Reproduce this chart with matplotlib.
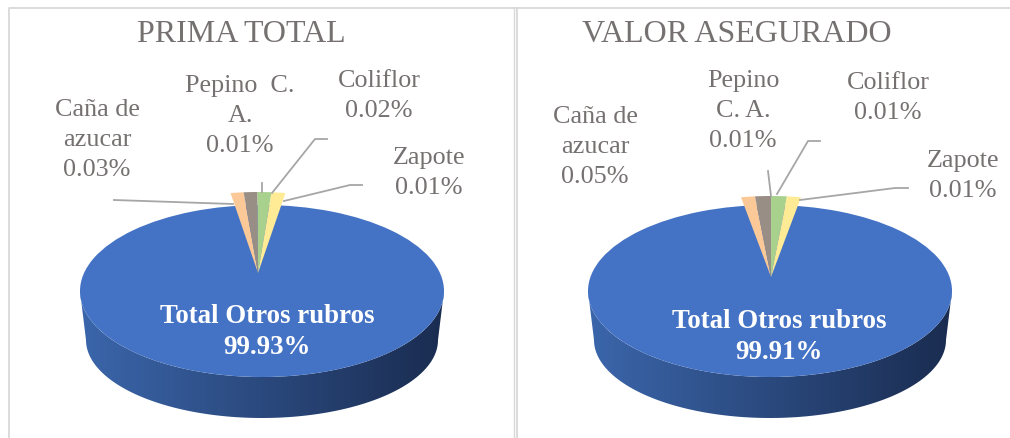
import numpy as np
import matplotlib
matplotlib.use("Agg")
import matplotlib.pyplot as plt
from matplotlib.colors import LinearSegmentedColormap
from matplotlib.lines import Line2D
from matplotlib.patches import Polygon

plt.rcParams["font.family"] = ["Liberation Serif", "DejaVu Serif"]

W, H = 1010, 438

titles = ["PRIMA TOTAL", "VALOR ASEGURADO"]
main_name = "Total Otros rubros"
main_values = [99.93, 99.91]

slice_names = [
    ["Caña de\nazucar", "Pepino  C.\nA.", "Coliflor", "Zapote"],
    ["Caña de\nazucar", "Pepino\nC. A.", "Coliflor", "Zapote"],
]
slice_values = [
    [0.03, 0.01, 0.02, 0.01],
    [0.05, 0.01, 0.01, 0.01],
]
# share of the circle each small slice takes in the picture (not to scale with the labels)
drawn_shares = [
    [0.0122, 0.013, 0.013, 0.013],
    [0.0131, 0.0149, 0.0149, 0.0131],
]

slice_colors = ["#FBC997", "#998E86", "#A9D18E", "#FFEB95"]
BLUE = "#4472C4"
TEXT = "#767171"
LINE = "#A6A6A6"
BORDER = "#D9D9D9"
side_cmap = LinearSegmentedColormap.from_list("side", ["#3B66AB", "#1A2C50"])

# layout in picture pixels, one entry per chart
layouts = [
    {
        "rect": (10, 10, 510, 438), "center": (262, 291), "apex": (258, 273),
        "title": (241, 34), "main": (267, 332),
        "labels": [(97, 140), (240, 116), (379, 96), (429, 173)],
        "leaders": [
            [(114, 200), (233, 204)],
            [(262, 183), (262, 192)],
            [(327, 139), (315, 139), (272, 193)],
            [(362, 185), (350, 185), (284, 201)],
        ],
    },
    {
        "rect": (518, 10, 1010, 438), "center": (770, 291), "apex": (771, 277),
        "title": (737, 34), "main": (779, 337),
        "labels": [(595, 147), (743, 111), (888, 98), (963, 176)],
        "leaders": [
            [(768, 171), (771, 196)],
            [(820, 141), (808, 141), (777, 194)],
            [(908, 188), (895, 188), (800, 200)],
        ],
    },
]

RX, RY = 182, 86      # top face of the pie
SMALL_R = 81 / RY     # small slices stick out above the top face
LOW_RX, LOW_RY, LOW_DY = 176, 78, 49   # bottom rim of the side wall


def fig_xy(x, y):
    return x / W, 1 - y / H


def draw_chart(fig, i):
    lay = layouts[i]
    x0, y0, x1, y1 = lay["rect"]
    cx, cy = lay["center"]
    ax = fig.add_axes([x0 / W, 1 - y1 / H, (x1 - x0) / W, (y1 - y0) / H])

    # side wall: gradient clipped to the band under the front half of the pie
    t = np.linspace(0, np.pi, 120)
    upper = np.column_stack([np.cos(t), -np.sin(t)])
    lower = np.column_stack([
        np.cos(t) * LOW_RX / RX,
        -(LOW_DY + np.sin(t) * LOW_RY) / RY,
    ])
    band = Polygon(np.vstack([upper, lower[::-1]]), closed=True, transform=ax.transData)
    grad = np.linspace(0, 1, 256).reshape(1, -1)
    im = ax.imshow(grad, cmap=side_cmap, aspect="auto", extent=(-1, 1, -1.5, 0), zorder=1)
    im.set_clip_path(band)

    ax.pie([main_values[i]], colors=[BLUE], radius=1, center=(0, 0),
           wedgeprops={"linewidth": 0, "zorder": 2})

    shares = drawn_shares[i]
    apex = ((lay["apex"][0] - cx) / RX, (cy - lay["apex"][1]) / RY)
    ax.pie(shares, colors=slice_colors, radius=SMALL_R, center=apex,
           startangle=90 + sum(shares) * 180, counterclock=False, normalize=False,
           wedgeprops={"linewidth": 0, "zorder": 3})

    ax.set_aspect("auto")
    ax.set_xlim((x0 - cx) / RX, (x1 - cx) / RX)
    ax.set_ylim((cy - y1) / RY, (cy - y0) / RY)
    ax.axis("off")

    for pts in lay["leaders"]:
        xy = np.array([fig_xy(*p) for p in pts])
        fig.add_artist(Line2D(xy[:, 0], xy[:, 1], color=LINE, linewidth=1.3,
                              transform=fig.transFigure, zorder=5))

    tx, ty = fig_xy(*lay["title"])
    fig.text(tx, ty, titles[i], color=TEXT, fontsize=23, ha="center", va="center")

    for name, val, pos in zip(slice_names[i], slice_values[i], lay["labels"]):
        tx, ty = fig_xy(*pos)
        fig.text(tx, ty, f"{name}\n{val:.2f}%", color=TEXT, fontsize=18.8,
                 ha="center", va="center", linespacing=1.48, multialignment="center")

    tx, ty = fig_xy(*lay["main"])
    fig.text(tx, ty, f"{main_name}\n{main_values[i]:.2f}%", color="white", fontsize=19.4,
             fontweight="bold", ha="center", va="center", linespacing=1.33)


def main():
    fig = plt.figure(figsize=(W / 100, H / 100), dpi=100, facecolor="white")

    for i in range(len(titles)):
        draw_chart(fig, i)

    # frame lines around the two panels
    for pts, lw in [
        ([(9, 438), (9, 8), (1010, 8)], 1.3),
        ([(514, 8), (514, 438)], 1.0),
        ([(516.5, 8), (516.5, 438)], 1.3),
    ]:
        xy = np.array([fig_xy(*p) for p in pts])
        fig.add_artist(Line2D(xy[:, 0], xy[:, 1], color=BORDER, linewidth=lw,
                              transform=fig.transFigure))

    fig.savefig("out.png", dpi=100)
    plt.close(fig)


if __name__ == "__main__":
    main()
